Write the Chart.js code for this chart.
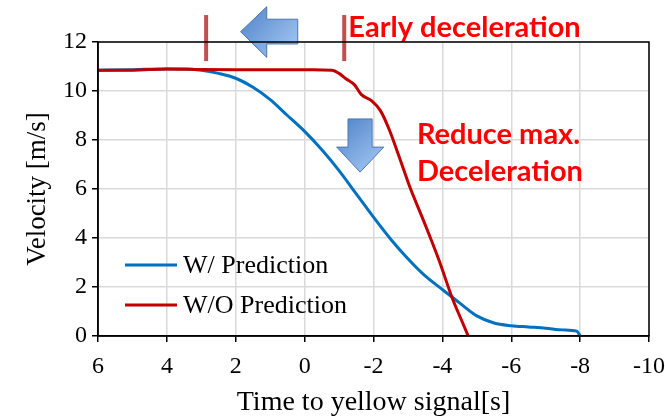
<!DOCTYPE html>
<html>
<head>
<meta charset="utf-8">
<script src="https://cdn.jsdelivr.net/npm/chart.js@4"></script>
<style>
  body { margin: 0; background: #fff; }
</style>
</head>
<body>
<canvas id="chart" width="665" height="417"></canvas>
<script>
// time to yellow signal [s] and velocity [m/s]
const timeWith = [6, 5, 4, 3.5, 3, 2.5, 2, 1.5, 1, 0.5, 0, -0.5, -1, -1.5, -2, -2.5, -3, -3.5, -4, -4.5, -5, -5.5, -6, -6.5, -7, -7.5, -7.9, -8];
const velWith = [10.85, 10.87, 10.9, 10.9, 10.85, 10.72, 10.52, 10.15, 9.65, 9.0, 8.35, 7.6, 6.75, 5.8, 4.85, 3.95, 3.15, 2.45, 1.9, 1.35, 0.82, 0.53, 0.42, 0.37, 0.32, 0.25, 0.2, 0];

const timeWithout = [6, 5, 4, 3, 2, 1, 0, -0.5, -0.8, -1, -1.2, -1.45, -1.65, -1.95, -2.2, -2.45, -2.75, -3.05, -3.45, -3.9, -4.3, -4.6, -4.75];
const velWithout = [10.85, 10.85, 10.9, 10.88, 10.87, 10.87, 10.87, 10.86, 10.85, 10.72, 10.5, 10.25, 9.85, 9.6, 9.2, 8.45, 7.3, 6.1, 4.72, 3.1, 1.5, 0.5, 0];

const seriesLabels = ['W/ Prediction', 'W/O Prediction'];
const xTicks = [6, 4, 2, 0, -2, -4, -6, -8, -10];
const yTicks = [0, 2, 4, 6, 8, 10, 12];

// annotation anchors (in data units)
const markTimes = [2.86, -1.15];

const serif = '"Liberation Serif", "Times New Roman", serif';

function toPoints(xs, ys) {
  return xs.map((x, i) => ({ x: x, y: ys[i] }));
}

function arrowFill(ctx, x0, y0, x1, y1) {
  const g = ctx.createLinearGradient(x0, y0, x1, y1);
  g.addColorStop(0, '#4f82c8');
  g.addColorStop(1, '#a8cbf6');
  return g;
}

const annotations = {
  id: 'annotations',
  afterDatasetsDraw(chart) {
    const ctx = chart.ctx;
    const xs = chart.scales.x, ys = chart.scales.y;
    const px = v => xs.getPixelForValue(v);
    const py = v => ys.getPixelForValue(v);
    ctx.save();

    // vertical marks
    ctx.strokeStyle = '#c0504d';
    ctx.lineWidth = 4;
    markTimes.forEach(t => {
      ctx.beginPath();
      ctx.moveTo(px(t), py(13.1));
      ctx.lineTo(px(t), py(11.22));
      ctx.stroke();
    });

    // left arrow
    ctx.beginPath();
    ctx.moveTo(px(1.86), py(12.42));
    ctx.lineTo(px(1.1), py(13.44));
    ctx.lineTo(px(1.1), py(12.93));
    ctx.lineTo(px(0.2), py(12.93));
    ctx.lineTo(px(0.2), py(11.92));
    ctx.lineTo(px(1.1), py(11.92));
    ctx.lineTo(px(1.1), py(11.37));
    ctx.closePath();
    ctx.fillStyle = arrowFill(ctx, px(1.86), py(13.44), px(0.2), py(11.37));
    ctx.fill();
    ctx.strokeStyle = '#4a78b0';
    ctx.lineWidth = 1;
    ctx.stroke();

    // down arrow
    ctx.beginPath();
    ctx.moveTo(px(-1.26), py(8.86));
    ctx.lineTo(px(-1.96), py(8.86));
    ctx.lineTo(px(-1.96), py(7.71));
    ctx.lineTo(px(-2.3), py(7.71));
    ctx.lineTo(px(-1.61), py(6.69));
    ctx.lineTo(px(-0.93), py(7.71));
    ctx.lineTo(px(-1.26), py(7.71));
    ctx.closePath();
    ctx.fillStyle = arrowFill(ctx, px(-0.93), py(8.86), px(-2.3), py(6.69));
    ctx.fill();
    ctx.stroke();

    // red notes
    ctx.fillStyle = '#ff0000';
    ctx.font = 'bold 29px Lato, "Open Sans", sans-serif';
    ctx.textBaseline = 'middle';
    ctx.textAlign = 'left';
    ctx.fillText('Early deceleration', px(-1.27), py(12.6));
    ctx.fillText('Reduce max.', px(-3.26), py(8.2));
    ctx.fillText('Deceleration', px(-3.26), py(6.7));

    ctx.restore();
  },
  afterDraw(chart) {
    const ctx = chart.ctx;
    const area = chart.chartArea;
    ctx.save();
    // frame around the plot
    ctx.strokeStyle = '#000';
    ctx.lineWidth = 1.5;
    ctx.strokeRect(area.left, area.top, area.right - area.left, area.bottom - area.top);

    // legend inside plot
    ctx.font = '26px ' + serif;
    ctx.textBaseline = 'middle';
    ctx.textAlign = 'left';
    chart.data.datasets.forEach((ds, i) => {
      const y = area.top + 223 + i * 40;
      ctx.strokeStyle = ds.borderColor;
      ctx.lineWidth = 3;
      ctx.beginPath();
      ctx.moveTo(area.left + 27, y);
      ctx.lineTo(area.left + 79, y);
      ctx.stroke();
      ctx.fillStyle = '#000';
      ctx.fillText(ds.label, area.left + 85, y + 1);
    });
    ctx.restore();
  }
};

const ctx = document.getElementById('chart').getContext('2d');
const chart = new Chart(ctx, {
  type: 'line',
  data: {
    datasets: [{
      label: seriesLabels[0],
      data: toPoints(timeWith, velWith),
      borderColor: '#0070c0',
      borderWidth: 3,
      pointRadius: 0,
      cubicInterpolationMode: 'monotone',
      order: 1
    }, {
      label: seriesLabels[1],
      data: toPoints(timeWithout, velWithout),
      borderColor: '#c00000',
      borderWidth: 3,
      pointRadius: 0,
      cubicInterpolationMode: 'monotone',
      order: 0
    }]
  },
  options: {
    responsive: false,
    animation: false,
    layout: { padding: { left: 0, top: 42, right: 16, bottom: 0 } },
    plugins: {
      legend: { display: false },
      tooltip: { enabled: false }
    },
    scales: {
      x: {
        type: 'linear',
        reverse: true,
        min: -10,
        max: 6,
        afterBuildTicks: s => { s.ticks = xTicks.map(v => ({ value: v })); },
        afterFit: s => { s.height = 81; s.paddingLeft = 0; s.paddingRight = 0; },
        grid: { color: '#d9d9d9', lineWidth: 1.5, tickColor: '#000', tickLength: 6 },
        border: { color: '#000', width: 1.5 },
        ticks: { color: '#000', font: { family: serif, size: 24 }, padding: 10, maxRotation: 0 },
        title: { display: true, text: 'Time to yellow signal[s]', color: '#000', font: { family: serif, size: 28 }, padding: { top: 0, bottom: -2 } }
      },
      y: {
        min: 0,
        max: 12,
        afterBuildTicks: s => { s.ticks = yTicks.map(v => ({ value: v })); },
        afterFit: s => { s.width = 98; s.paddingTop = 0; s.paddingBottom = 0; },
        grid: { color: '#d9d9d9', lineWidth: 1.5, tickColor: '#000', tickLength: 6 },
        border: { color: '#000', width: 1.5 },
        ticks: { color: '#000', font: { family: serif, size: 24 }, padding: 5 },
        title: { display: true, text: 'Velocity [m/s]', color: '#000', font: { family: serif, size: 27 }, padding: { top: 22, bottom: 0 } }
      }
    }
  },
  plugins: [annotations]
});
</script>
</body>
</html>
